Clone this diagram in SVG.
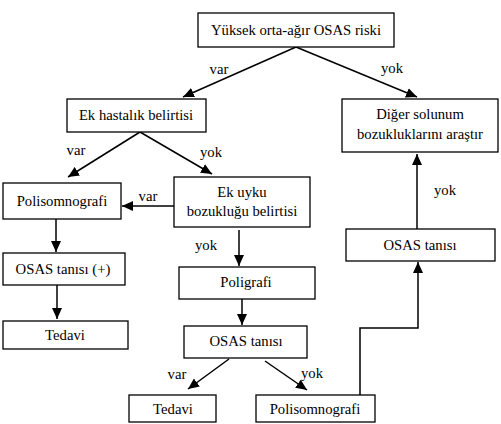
<svg xmlns="http://www.w3.org/2000/svg" width="501" height="424" viewBox="0 0 501 424">
<style>
rect{fill:#fff;stroke:#000;stroke-width:1.3}
text{font-family:'Liberation Serif','Times New Roman',serif;font-size:14.7px;fill:#000;text-anchor:middle}
.c{fill:none;stroke:#000;stroke-width:1.5;marker-end:url(#ah)}
</style>
<defs>
<marker id="ah" markerUnits="userSpaceOnUse" markerWidth="12" markerHeight="10" refX="11" refY="5" orient="auto">
<path d="M0,0 L11,5 L0,10 Z" fill="#000"/>
</marker>
</defs>
<rect x="0" y="0" width="501" height="424" style="fill:#fff;stroke:none"/>
<g id="connectors">
<line class="c" x1="296" y1="47" x2="183" y2="97"/>
<line class="c" x1="296" y1="47" x2="417" y2="97"/>
<line class="c" x1="140" y1="132" x2="68" y2="177"/>
<line class="c" x1="140" y1="132" x2="212" y2="174"/>
<line class="c" x1="174" y1="206" x2="122" y2="206"/>
<line class="c" x1="239" y1="230" x2="239" y2="266"/>
<line class="c" x1="56" y1="219" x2="56" y2="252"/>
<line class="c" x1="57" y1="285" x2="57" y2="319"/>
<line class="c" x1="242" y1="299" x2="242" y2="325"/>
<line class="c" x1="229" y1="359" x2="188" y2="389"/>
<line class="c" x1="265" y1="361" x2="307" y2="390"/>
<polyline class="c" points="360,395 360,328 418,328 418,262"/>
<line class="c" x1="417" y1="229" x2="417" y2="154"/>
<text x="219" y="74">var</text>
<text x="392" y="73">yok</text>
<text x="76" y="155">var</text>
<text x="211" y="157">yok</text>
<text x="148" y="201">var</text>
<text x="206" y="250">yok</text>
<text x="445" y="195">yok</text>
<text x="177" y="379">var</text>
<text x="312" y="378">yok</text>
</g>
<g id="n1"><rect x="198" y="13" width="196" height="34"/><text x="296" y="35">Yüksek orta-ağır OSAS riski</text></g>
<g id="n2"><rect x="67" y="99" width="139" height="33"/><text x="136" y="120">Ek hastalık belirtisi</text></g>
<g id="n3"><rect x="342" y="99" width="156" height="53"/><text x="420" y="119">Diğer solunum</text><text x="420" y="139">bozukluklarını araştır</text></g>
<g id="n4"><rect x="3" y="183" width="118" height="36"/><text x="62" y="206">Polisomnografi</text></g>
<g id="n5"><rect x="174" y="177" width="136" height="50"/><text x="242" y="197">Ek uyku</text><text x="242" y="216">bozukluğu belirtisi</text></g>
<g id="n6"><rect x="346" y="229" width="149" height="32"/><text x="420" y="250">OSAS tanısı</text></g>
<g id="n7"><rect x="3" y="253" width="122" height="32"/><text x="63" y="274">OSAS tanısı (+)</text></g>
<g id="n8"><rect x="179" y="267" width="136" height="32"/><text x="246" y="287">Poligrafi</text></g>
<g id="n9"><rect x="3" y="321" width="125" height="28"/><text x="65" y="340">Tedavi</text></g>
<g id="n10"><rect x="184" y="326" width="123" height="32"/><text x="246" y="346">OSAS tanısı</text></g>
<g id="n11"><rect x="129" y="395" width="87" height="27"/><text x="173" y="414">Tedavi</text></g>
<g id="n12"><rect x="256" y="395" width="119" height="27"/><text x="315" y="414">Polisomnografi</text></g>
</svg>
